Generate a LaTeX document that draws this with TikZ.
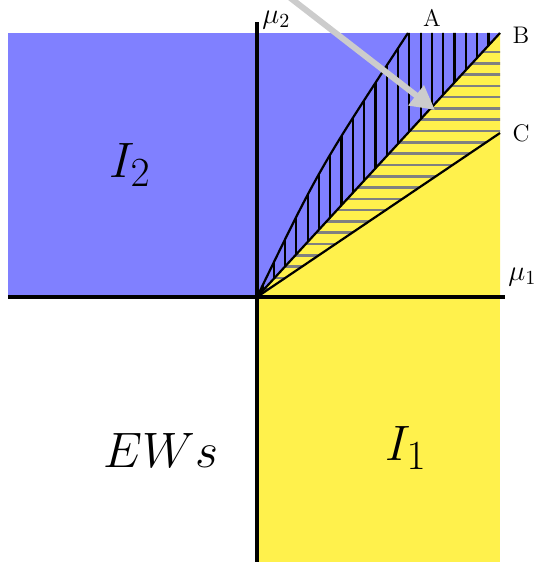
\documentclass[tikz,border=0pt]{standalone}
\usepackage{xcolor}
\definecolor{regionblue}{RGB}{128,128,255}
\definecolor{regionyellow}{RGB}{255,241,76}
\definecolor{hatchgray}{RGB}{128,128,128}
\definecolor{pointergray}{RGB}{204,204,204}
\usetikzlibrary{arrows.meta}

\begin{document}
\begin{tikzpicture}[
  x=0.5pt, y=0.5pt,
  axis/.style={line width=2pt, black},
  border/.style={line width=1.1pt, black},
  vhatch/.style={line width=1.1pt, black},
  hhatch/.style={line width=1.3pt, hatchgray},
  corner/.style={font=\large, inner sep=1pt},
  axislabel/.style={font=\Large, inner sep=0pt, anchor=west},
  region/.style={font=\Huge, inner sep=0pt},
  pointer/.style={-{Triangle[length=12pt,width=12pt]}, line width=3pt, color=pointergray}
]
\useasboundingbox (-257,-265) rectangle (280,297);
\clip (-257,-265) rectangle (280,297);
\coordinate (O) at (0,0);
\coordinate (A) at (151,264);
\coordinate (B) at (243,264);
\coordinate (C) at (243,164);

\fill[regionblue] (-249,0) rectangle (B);
\fill[regionyellow] (0,-265) rectangle (243,0);
\fill[regionyellow] (O) -- (243,0) -- (B) -- cycle;

\begin{scope}
  \clip (O) .. controls (62,128) .. (A) -- (B) -- cycle;
  \foreach \k in {0,...,21} \draw[vhatch] (5.4+11.3*\k,0) -- ++(0,270);
\end{scope}
\begin{scope}
  \clip (O) -- (B) -- (C) -- cycle;
  \foreach \k in {0,...,22} \draw[hhatch] (0,245-11.3*\k) -- ++(250,0);
\end{scope}

\draw[border] (O) .. controls (62,128) .. (A);
\draw[border] (O) -- (B);
\draw[border] (O) -- (C);

\draw[axis] (-249,0) -- (248,0);
\draw[axis] (0,-265) -- (0,275);

\node[axislabel] (mu2) at (5,277) {$\mu_2$};
\node[axislabel] (mu1) at (251,20) {$\mu_1$};
\node[corner] (lblA) at (175,279) {A};
\node[corner] (lblB) at (264,262) {B};
\node[corner] (lblC) at (264,164) {C};
\node[region] (I2) at (-127,132) {$I_2$};
\node[region] (EWs) at (-96,-153) {$EWs$};
\node[region] (I1) at (149,-151) {$I_1$};

\coordinate (tail) at (-35,352);
\coordinate (tip) at (178,187);
\draw[pointer] (tail) -- (tip);
\end{tikzpicture}
\end{document}
